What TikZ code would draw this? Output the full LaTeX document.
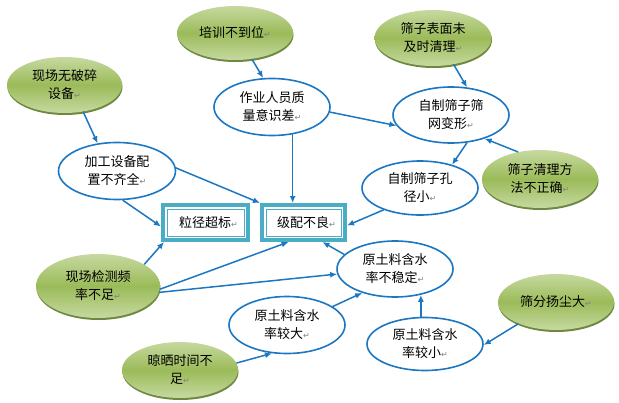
\documentclass[tikz,border=0pt]{standalone}
\usepackage{fontspec}
\setmainfont{Noto Sans CJK SC}
\newfontfamily\symfont{DejaVu Sans}
\usetikzlibrary{shapes.geometric,shadows,arrows.meta}
\definecolor{lineblue}{HTML}{1C77C3}
\definecolor{boxteal}{HTML}{4BACC6}
\definecolor{greenlight}{HTML}{C6D9A0}
\definecolor{greenmid}{HTML}{9BBB59}
\definecolor{greendark}{HTML}{5E7A2C}
\newcommand{\pmark}{{\symfont\fontsize{8}{8}\selectfont\color{gray}↵}}
\tikzset{
  cause/.style={ellipse, minimum width=116pt, minimum height=56pt, inner sep=0pt, align=center, top color=greenlight, bottom color=greenlight, middle color=greenmid, drop shadow={shadow xshift=0.5pt, shadow yshift=-2pt, fill=greendark, opacity=0.9}},
  effect/.style={ellipse, draw=lineblue, line width=1.6pt, fill=white, minimum width=116pt, minimum height=56pt, inner sep=0pt, align=center},
  result/.style={draw=boxteal, line width=4pt, fill=white, minimum width=85pt, minimum height=35pt, inner sep=0pt},
  link/.style={draw=lineblue, line width=1.5pt, -{Latex[length=7pt,width=6pt]}}
}
\begin{document}
\begin{tikzpicture}[x=1pt, y=-1pt, every node/.style={font=\fontsize{13}{18}\selectfont}]
\useasboundingbox (0,0) rectangle (619,402);
\node[cause, minimum width=115pt, minimum height=56pt] (xc) at (64.5,85) {现场无破碎\\设备\pmark};
\node[cause, minimum height=54pt] (px) at (235,33) {培训不到位\pmark};
\node[cause, minimum width=117pt] (bm) at (433,38) {筛子表面未\\及时清理\pmark};
\node[cause, minimum height=58pt] (ql) at (540,179) {筛子清理方\\法不正确\pmark};
\node[cause, minimum width=124pt, minimum height=64pt] (jc) at (98,286) {现场检测频\\率不足\pmark};
\node[cause, minimum height=56pt] (lx) at (180,370) {晾晒时间不\\足\pmark};
\node[cause, minimum height=56pt] (yc) at (556,302) {筛分扬尘大\pmark};
\node[effect, minimum height=57pt] (zy) at (272,107) {作业人员质\\量意识差\pmark};
\node[effect, minimum width=117pt, minimum height=57pt] (jg) at (117,171) {加工设备配\\置不齐全\pmark};
\node[effect] (sw) at (451,115) {自制筛子筛\\网变形\pmark};
\node[effect, minimum height=54pt] (kj) at (420,188) {自制筛子孔\\径小\pmark};
\node[effect] (bw) at (395,269) {原土料含水\\率不稳定\pmark};
\node[effect, minimum height=57pt] (jd) at (287,325) {原土料含水\\率较大\pmark};
\node[effect, minimum height=53pt] (jx) at (425,344) {原土料含水\\率较小\pmark};
\node[result] (lj) at (205.5,222.5) {\hspace{6pt}粒径超标\pmark};
\node[result, minimum width=83pt] (jp) at (303.5,222.5) {\hspace{6pt}级配不良\pmark};
\draw[boxteal, line width=0.8pt] ([shift={(6pt,-6pt)}]lj.north west) rectangle ([shift={(-6pt,6pt)}]lj.south east);
\draw[boxteal, line width=0.8pt] ([shift={(6pt,-6pt)}]jp.north west) rectangle ([shift={(-6pt,6pt)}]jp.south east);
\draw[link] (px.-57) -- (zy.107);
\draw[link] (xc.-55) -- (jg.125);
\draw[link] (zy.-53) -- (zy.-53 |- jp.north);
\draw[link] (zy.-5) -- (sw.191);
\draw[link] (bm.-52) -- (sw.60);
\draw[link] (ql.129) -- (sw.-35);
\draw[link] (sw.-60) -- (kj.36);
\draw[link] (kj.211) -- ([yshift=-3pt]jp.east);
\draw[link] (jg.3) -- (jp.north west);
\draw[link] (jg.-79) -- ([yshift=-4pt]lj.west);
\draw[link] (jc.25) -- ([xshift=3pt]lj.south west);
\draw[link] (jc.-3) -- ([xshift=-15pt]jp.south);
\draw[link] (jc.-6) -- (bw.185);
\draw[link] (bw.164) -- ([xshift=19pt]jp.south);
\draw[link] (jd.22) -- (bw.216);
\draw[link] (lx.7) -- (jd.-118);
\draw[link] (bw.-45 |- jx.north) -- (bw.-45);
\draw[link] (yc.210) -- (jx.-1);
\end{tikzpicture}
\end{document}
